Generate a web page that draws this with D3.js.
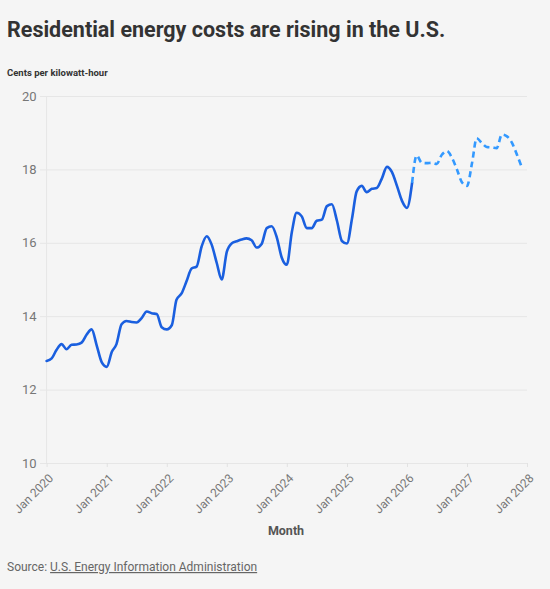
<!DOCTYPE html>
<html>
<head>
<meta charset="utf-8">
<script src="https://cdn.jsdelivr.net/npm/d3@7/dist/d3.min.js"></script>
<style>
  html, body { margin: 0; padding: 0; background: #f5f5f5; }
  svg { display: block; }
  text { font-family: "Roboto", sans-serif; }
</style>
</head>
<body>
<svg id="chart" width="550" height="589"></svg>
<script>
// ---- Data (monthly, Jan 2020 .. Dec 2027), cents per kWh ----
const startMonth = "2020-01";
const values2020 = [12.78, 12.85, 13.08, 13.24, 13.10, 13.22, 13.23, 13.28, 13.50, 13.64, 13.20, 12.75];
const values2021 = [12.62, 13.03, 13.24, 13.78, 13.87, 13.84, 13.83, 13.95, 14.13, 14.08, 14.06, 13.70];
const values2022 = [13.64, 13.76, 14.45, 14.62, 14.95, 15.30, 15.35, 15.90, 16.18, 15.95, 15.45, 15.00];
const values2023 = [15.75, 15.99, 16.04, 16.09, 16.12, 16.07, 15.87, 15.97, 16.40, 16.45, 16.15, 15.60];
const values2024 = [15.40, 16.30, 16.82, 16.72, 16.40, 16.40, 16.60, 16.63, 17.00, 17.05, 16.60, 16.05];
const values2025 = [15.98, 16.67, 17.40, 17.55, 17.38, 17.47, 17.49, 17.75, 18.07, 17.93, 17.55, 17.15];
const values2026 = [16.95, 17.63, 18.38, 18.18, 18.17, 18.18, 18.15, 18.40, 18.50, 18.32, 18.00, 17.65];
const values2027 = [17.55, 18.18, 18.85, 18.72, 18.61, 18.60, 18.58, 18.95, 18.90, 18.73, 18.40, 18.05];
const forecastStartIndex = 73; // history solid up to here, forecast dashed from here
const yTicks = [10, 12, 14, 16, 18, 20];
const xTickLabels = ["Jan 2020","Jan 2021","Jan 2022","Jan 2023","Jan 2024","Jan 2025","Jan 2026","Jan 2027","Jan 2028"];
const titleText = "Residential energy costs are rising in the U.S.";
const unitText = "Cents per kilowatt-hour";
const xTitle = "Month";
const sourceLabel = "Source: ";
const sourceName = "U.S. Energy Information Administration";

// ---- Build ----
const allValues = [].concat(values2020, values2021, values2022, values2023, values2024, values2025, values2026, values2027);
const parseMonth = d3.timeParse("%Y-%m");
const t0 = parseMonth(startMonth);
const data = allValues.map((v, i) => ({ date: d3.timeMonth.offset(t0, i), value: v }));
const history = data.slice(0, forecastStartIndex + 1);
const forecast = data.slice(forecastStartIndex);
const tickDates = xTickLabels.map(s => d3.timeParse("%b %Y")(s));

const svg = d3.select("#chart");
svg.append("rect").attr("width", 550).attr("height", 589).attr("fill", "#f5f5f5");

const x = d3.scaleTime().domain([tickDates[0], tickDates[tickDates.length - 1]]).range([46.6, 527]);
const y = d3.scaleLinear().domain([10, 20]).range([463, 96]);

// Title & unit
svg.append("text").attr("x", 7).attr("y", 37)
  .attr("font-size", 21.5).attr("font-weight", 700).attr("fill", "#333").text(titleText);
svg.append("text").attr("x", 7).attr("y", 76)
  .attr("font-size", 9.5).attr("font-weight", 700).attr("fill", "#333").text(unitText);

// Grid + y axis
const yAxis = d3.axisLeft(y).tickValues(yTicks).tickSize(-(527 - 40)).tickPadding(4).tickFormat(d3.format("d"));
const gy = svg.append("g").attr("transform", "translate(40,0)").call(yAxis);
gy.select(".domain").remove();
gy.selectAll(".tick line").attr("stroke", "#e6e6e6").attr("stroke-width", 1);
gy.selectAll(".tick text").attr("font-size", 13).attr("fill", "#777").attr("x", -3.5)
  .style("font-family", '"Roboto", sans-serif');

// vertical axis line
svg.append("line").attr("x1", x.range()[0]).attr("x2", x.range()[0])
  .attr("y1", y(20)).attr("y2", y(10)).attr("stroke", "#e6e6e6");

// x axis labels + small ticks
const xAxis = d3.axisBottom(x).tickValues(tickDates).tickSize(4).tickPadding(0).tickFormat((d, i) => xTickLabels[i]);
const gx = svg.append("g").attr("transform", "translate(0,463)").call(xAxis);
gx.select(".domain").remove();
gx.selectAll(".tick line").attr("stroke", "#e2e2e2");
gx.selectAll(".tick text")
  .attr("font-size", 12).attr("fill", "#777")
  .style("font-family", '"Roboto", sans-serif')
  .attr("text-anchor", "end")
  .attr("y", 0).attr("dy", 0)
  .attr("transform", "translate(7,16) rotate(-45)");

// x title
svg.append("text").attr("x", 286).attr("y", 535).attr("text-anchor", "middle")
  .attr("font-size", 12.5).attr("font-weight", 700).attr("fill", "#555").text(xTitle);

// lines
const line = d3.line().x(d => x(d.date)).y(d => y(d.value)).curve(d3.curveMonotoneX);
svg.append("path").datum(history).attr("d", line)
  .attr("fill", "none").attr("stroke", "#1a5fdf").attr("stroke-width", 2.6)
  .attr("stroke-linejoin", "round").attr("stroke-linecap", "round");
svg.append("path").datum(forecast).attr("d", line)
  .attr("fill", "none").attr("stroke", "#3399ff").attr("stroke-width", 2.6)
  .attr("stroke-dasharray", "6,4");

// source
const src = svg.append("text").attr("x", 7).attr("y", 571).attr("font-size", 12).attr("fill", "#666");
src.append("tspan").text(sourceLabel);
src.append("tspan").attr("text-decoration", "underline").text(sourceName);
</script>
</body>
</html>
